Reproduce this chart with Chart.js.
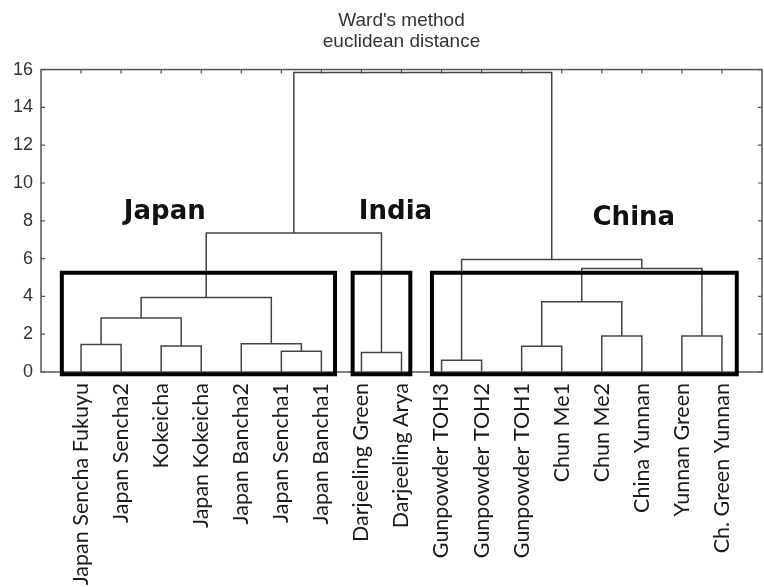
<!DOCTYPE html>
<html>
<head>
<meta charset="utf-8">
<script src="https://cdn.jsdelivr.net/npm/chart.js@4"></script>
<style>
  html, body { margin: 0; padding: 0; background: #fff; }
  #wrap { width: 764px; height: 587px; }
</style>
</head>
<body>
<div id="wrap"><canvas id="chart" width="764" height="587"></canvas></div>
<script>
// leaves, in dendrogram order
const leafLabels = [
  'Japan Sencha Fukuyu', 'Japan Sencha2', 'Kokeicha', 'Japan Kokeicha',
  'Japan Bancha2', 'Japan Sencha1', 'Japan Bancha1',
  'Darjeeling Green', 'Darjeeling Arya',
  'Gunpowder TOH3', 'Gunpowder TOH2', 'Gunpowder TOH1', 'Chun Me1',
  'Chun Me2', 'China Yunnan', 'Yunnan Green', 'Ch. Green Yunnan',
];

// linkage: ids 0..16 are leaves, each merge creates id 17, 18, ...
const mergeLeft   = [0, 2, 17, 5, 4, 19, 7, 22, 9, 11, 13, 26, 15, 28, 25, 24];
const mergeRight  = [1, 3, 18, 6, 20, 21, 8, 23, 10, 12, 14, 27, 16, 29, 30, 31];
const mergeHeight = [1.45, 1.38, 2.86, 1.10, 1.50, 3.94, 1.03, 7.36, 0.62, 1.36, 1.91, 3.71, 1.91, 5.48, 5.95, 15.85];

const yTicks = [0, 2, 4, 6, 8, 10, 12, 14, 16];
const titleLines = ["Ward's method", 'euclidean distance'];

// cluster boxes (data units) and their labels
const clusterNames = ['Japan', 'India', 'China'];
const clusterFrom  = [0.52, 7.78, 9.76];
const clusterTo    = [7.34, 9.22, 17.37];
const clusterTop = 5.25;
const clusterBottom = -0.12;
const clusterLabelX = [3.09, 8.85, 14.8];
const clusterLabelY = [8.09, 8.12, 7.77];

const LINE = '#444';
const TEXT = '#333';

// build node positions from the linkage
const nodeX = leafLabels.map((_, i) => i + 1);
const nodeH = leafLabels.map(() => 0);
const datasets = [];
mergeHeight.forEach((h, k) => {
  const a = mergeLeft[k], b = mergeRight[k];
  datasets.push({
    data: [
      { x: nodeX[a], y: nodeH[a] },
      { x: nodeX[a], y: h },
      { x: nodeX[b], y: h },
      { x: nodeX[b], y: nodeH[b] },
    ],
    borderColor: LINE,
    borderWidth: 1.5,
    pointRadius: 0,
    showLine: true,
    fill: false,
    tension: 0,
    clip: false,
  });
  nodeX.push((nodeX[a] + nodeX[b]) / 2);
  nodeH.push(h);
});

const framePlugin = {
  id: 'frame',
  afterDatasetsDraw(chart) {
    const { ctx, chartArea: a, scales: { x, y } } = chart;
    ctx.save();
    ctx.strokeStyle = '#555';
    ctx.lineWidth = 1.5;
    ctx.strokeRect(a.left, a.top, a.right - a.left, a.bottom - a.top);
    ctx.lineWidth = 1.2;
    ctx.beginPath();
    yTicks.forEach((v) => {
      const py = y.getPixelForValue(v);
      ctx.moveTo(a.left, py); ctx.lineTo(a.left + 4, py);
      ctx.moveTo(a.right, py); ctx.lineTo(a.right - 4, py);
    });
    nodeX.slice(0, leafLabels.length).forEach((v) => {
      const px = x.getPixelForValue(v);
      ctx.moveTo(px, a.top); ctx.lineTo(px, a.top + 4);
    });
    ctx.stroke();

    // cluster boxes
    ctx.strokeStyle = '#000';
    ctx.lineWidth = 4;
    clusterNames.forEach((name, i) => {
      const x0 = x.getPixelForValue(clusterFrom[i]);
      const x1 = x.getPixelForValue(clusterTo[i]);
      const y0 = y.getPixelForValue(clusterTop);
      const y1 = y.getPixelForValue(clusterBottom);
      ctx.strokeRect(x0, y0, x1 - x0, y1 - y0);
    });

    // cluster names
    ctx.fillStyle = '#111';
    ctx.font = 'bold 26px "DejaVu Sans"';
    ctx.textAlign = 'center';
    ctx.textBaseline = 'alphabetic';
    clusterNames.forEach((name, i) => {
      ctx.fillText(name, x.getPixelForValue(clusterLabelX[i]), y.getPixelForValue(clusterLabelY[i]));
    });
    ctx.restore();
  },
};

new Chart(document.getElementById('chart'), {
  type: 'scatter',
  data: { datasets },
  options: {
    responsive: false,
    animation: false,
    layout: { padding: { left: 0, right: 2, top: 0, bottom: 0 } },
    plugins: {
      legend: { display: false },
      tooltip: { enabled: false },
      title: {
        display: true,
        text: titleLines,
        fullSize: false,
        align: 'center',
        color: TEXT,
        font: { family: '"Liberation Sans", Arial, sans-serif', size: 19, weight: 'normal', lineHeight: 1.12 },
        padding: { top: 10, bottom: 17 },
      },
    },
    scales: {
      x: {
        type: 'linear',
        min: 0,
        max: 18,
        afterBuildTicks: (s) => { s.ticks = leafLabels.map((_, i) => ({ value: i + 1 })); },
        afterFit: (s) => { s.height = 215; },
        ticks: {
          autoSkip: false,
          minRotation: 90,
          maxRotation: 90,
          padding: 11,
          color: '#1a1a1a',
          font: { family: 'Lato, "Noto Sans", sans-serif', size: 21.5 },
          callback: (v) => leafLabels[v - 1],
        },
        grid: { display: false, drawTicks: false },
        border: { display: false },
      },
      y: {
        min: 0,
        max: 16,
        afterBuildTicks: (s) => { s.ticks = yTicks.map((v) => ({ value: v })); },
        afterFit: (s) => { s.width = 41; },
        ticks: {
          padding: 8,
          color: TEXT,
          font: { family: '"Liberation Sans", Arial, sans-serif', size: 18 },
        },
        grid: { display: false, drawTicks: false },
        border: { display: false },
      },
    },
  },
  plugins: [framePlugin],
});
</script>
</body>
</html>
